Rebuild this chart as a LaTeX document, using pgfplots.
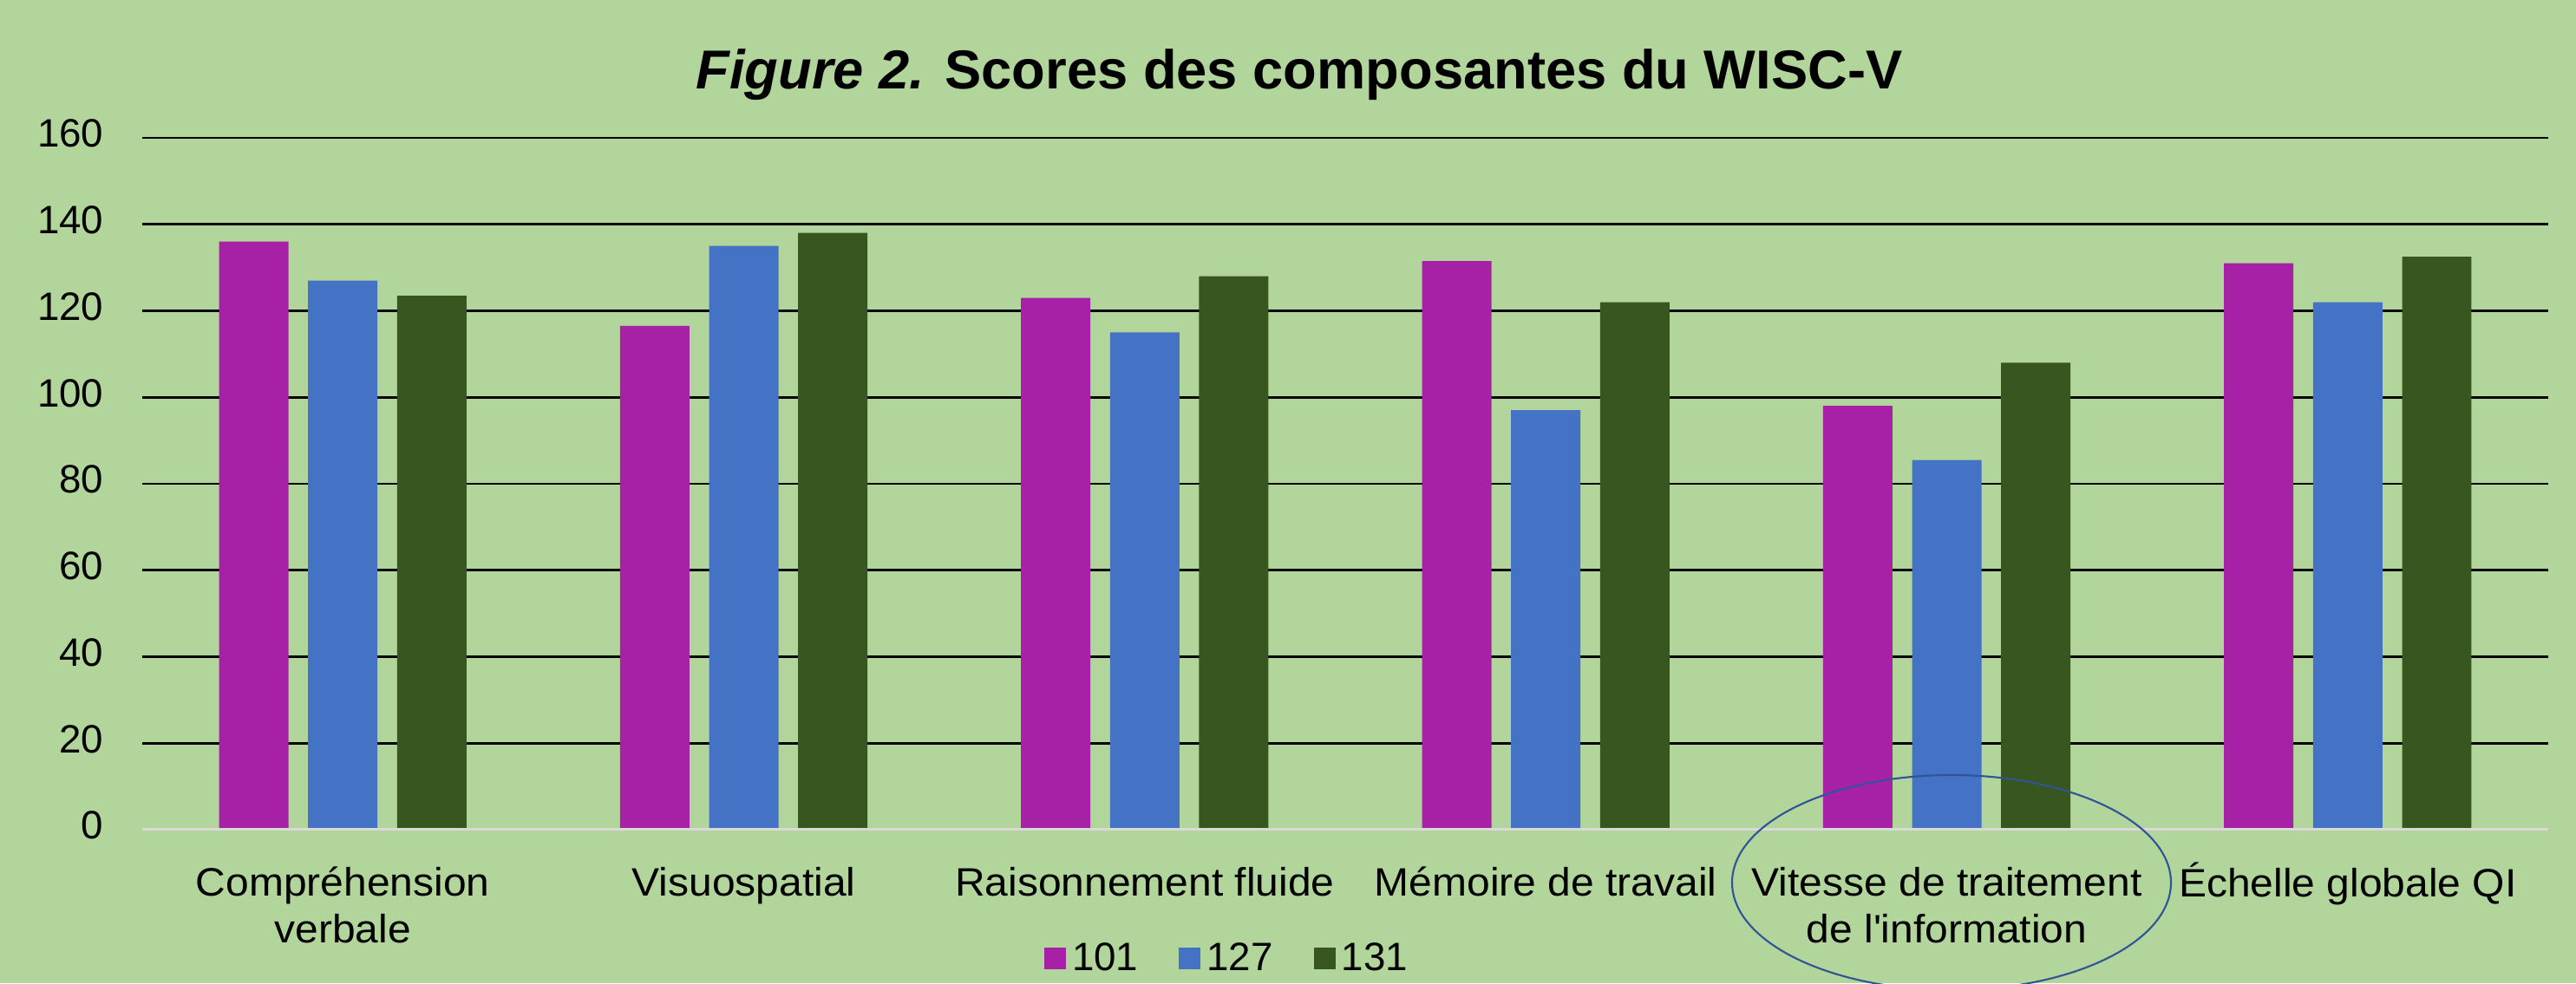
\documentclass[border=0pt]{standalone}
\usepackage{fontspec}
\setmainfont{Liberation Sans}
\newfontfamily\lblfont{Liberation Sans}[FakeStretch=1.05]
\usepackage{pgfplots}
\pgfplotsset{compat=1.18}
\definecolor{bgc}{HTML}{B2D59B}
\definecolor{cpur}{HTML}{A621A6}
\definecolor{cblu}{HTML}{4472C4}
\definecolor{cgrn}{HTML}{38561F}
\definecolor{cell}{HTML}{2F5597}
\begin{document}
\begin{tikzpicture}
\fill[bgc] (0,0) rectangle (29.7cm,11.34cm);
\clip (0,0) rectangle (29.7cm,11.34cm);
\begin{axis}[
  at={(1.64cm,1.77cm)}, anchor=south west,
  scale only axis, width=27.74cm, height=7.98cm,
  xmin=-0.5, xmax=5.5, ymin=0, ymax=160,
  ytick={0,20,...,160},
  xtick={0,1,2,3,4,5},
  xticklabels={{Compréhension\\verbale},{Visuospatial},{Raisonnement fluide},{Mémoire de travail},{Vitesse de traitement\\de l\textquotesingle information},{Échelle globale QI}},
  typeset ticklabels with strut,
  xticklabel style={align=center, anchor=north, inner sep=0pt, yshift=-0.22cm, font=\lblfont\fontsize{13}{15.6}\selectfont},
  yticklabel style={anchor=east, inner sep=0pt, xshift=-0.44cm, font=\fontsize{13}{15.5}\selectfont},
  /pgf/number format/assume math mode=true,
  axis line style={draw=none},
  tick style={draw=none},
  ymajorgrids,
  grid style={black, line width=0.75pt},
  ybar, bar width=0.173,
  legend columns=3,
  legend style={at={(0.4517,-0.187)}, anchor=center, draw=none, fill=none,
    font=\fontsize{13}{15.5}\selectfont,
    /tikz/every even column/.append style={column sep=0.4cm}},
  legend image code/.code={\fill[#1] (0cm,-0.12cm) rectangle (0.25cm,0.13cm);},
]
\addplot[fill=cpur, draw=none, bar shift=-0.222] coordinates {(0,136) (1,116.5) (2,123) (3,131.5) (4,98) (5,131)};
\addplot[fill=cblu, draw=none, bar shift=0] coordinates {(0,127) (1,135) (2,115) (3,97) (4,85.5) (5,122)};
\addplot[fill=cgrn, draw=none, bar shift=0.222] coordinates {(0,123.5) (1,138) (2,128) (3,122) (4,108) (5,132.5)};
\legend{101,127,131}
\draw[black!15, line width=1.2pt] (axis cs:-0.5,0) -- (axis cs:5.5,0);
\end{axis}
\node[anchor=base, font=\fontsize{18}{21}\selectfont\bfseries] at (14.98cm,10.31cm) {\textit{Figure 2.} Scores des composantes du WISC-V};
\draw[cell, line width=0.6pt] (22.5cm,1.16cm) ellipse [x radius=2.53cm, y radius=1.24cm];
\end{tikzpicture}
\end{document}
